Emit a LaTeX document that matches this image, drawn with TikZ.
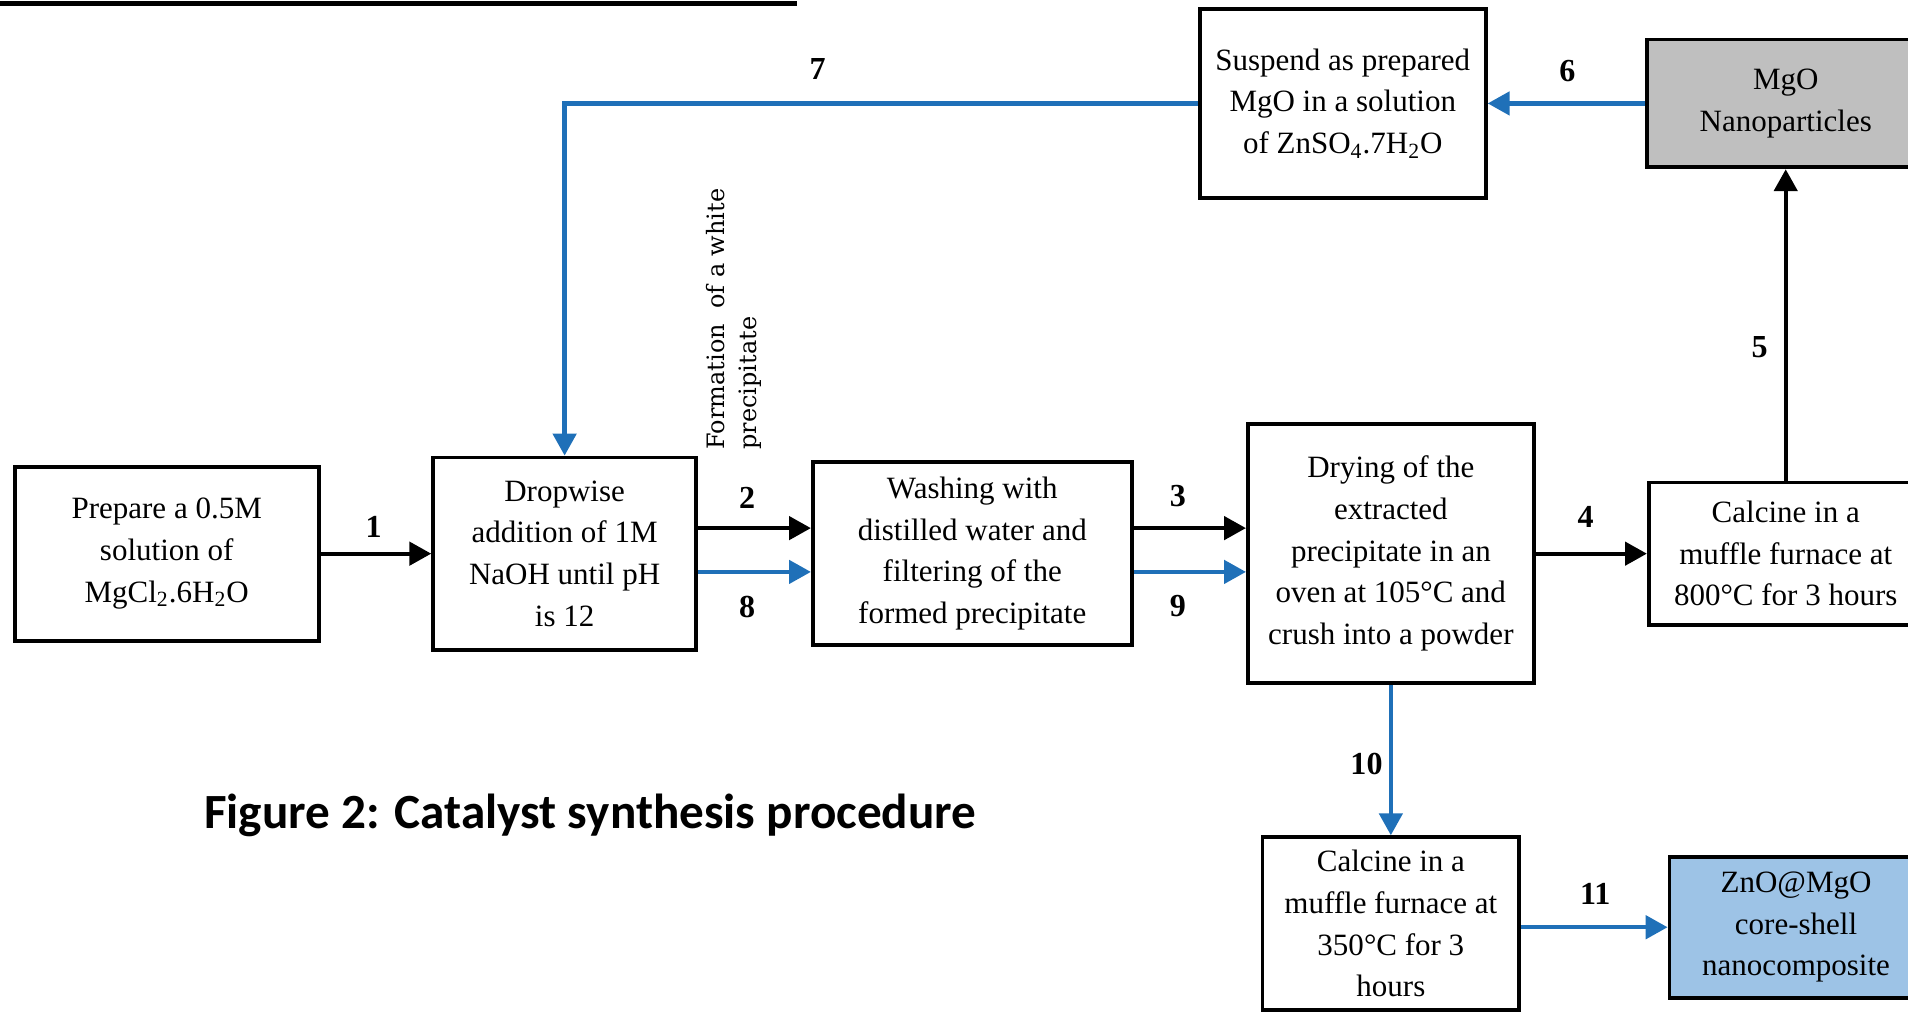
\documentclass[tikz,border=0pt]{standalone}
\usepackage{fontspec}
\setmainfont{Liberation Serif}
\newfontfamily\capfont{Carlito}
\newfontfamily\sidefont{DejaVu Serif}
\usetikzlibrary{arrows.meta}
\definecolor{arrowblue}{RGB}{31,112,184}
\definecolor{mgogray}{RGB}{191,191,191}
\definecolor{znoblue}{RGB}{157,195,230}
\begin{document}
\begin{tikzpicture}[style=thick]
	\newcommand{\boxfont}{\fontsize{14.5}{19.5}\selectfont}
	\tikzstyle{proc}=[draw,line width=1.8pt,align=center,inner sep=2pt,font=\boxfont]
	\tikzstyle{num}=[font=\fontsize{15}{17}\selectfont\bfseries]
	\tikzstyle{blk}=[line width=2pt,-{Triangle[length=0.36cm,width=0.38cm]}]
	\tikzstyle{blu}=[blk,draw=arrowblue]
	\useasboundingbox (0,0) rectangle (31.36,16.70);
	\clip (0,0) rectangle (31.36,16.70);
	\draw[line width=2.3pt] (0,16.64) -- (13.1,16.64);
	% process boxes
	\node[proc,minimum width=5.0cm,minimum height=2.86cm] (prep) at (2.74,7.6) {Prepare a 0.5M\\solution of\\MgCl\textsubscript{2}.6H\textsubscript{2}O};
	\node[proc,minimum width=4.32cm,minimum height=3.16cm] (drop) at (9.28,7.6) {Dropwise\\addition of 1M\\NaOH until pH\\is 12};
	\node[proc,minimum width=5.24cm,minimum height=3.0cm] (wash) at (15.98,7.6) {Washing with\\distilled water and\\filtering of the\\formed precipitate};
	\node[proc,minimum width=4.7cm,minimum height=4.26cm] (dry) at (22.86,7.6) {Drying of the\\extracted\\precipitate in an\\oven at 105°C and\\crush into a powder};
	\node[proc,minimum width=4.5cm,minimum height=2.34cm] (calc8) at (29.35,7.6) {Calcine in a\\muffle furnace at\\800°C for 3 hours};
	\node[proc,fill=mgogray,minimum width=4.56cm,minimum height=2.1cm] (mgo) at (29.35,15.0) {MgO\\Nanoparticles};
	\node[proc,minimum width=4.7cm,minimum height=3.1cm] (susp) at (22.07,15.0) {Suspend as prepared\\MgO in a solution\\of ZnSO\textsubscript{4}.7H\textsubscript{2}O};
	\node[proc,minimum width=4.22cm,minimum height=2.84cm] (calc3) at (22.86,1.52) {Calcine in a\\muffle furnace at\\350°C for 3\\hours};
	\node[proc,fill=znoblue,minimum width=4.16cm,minimum height=2.32cm] (zno) at (29.52,1.46) {ZnO@MgO\\core-shell\\nanocomposite};
	\node[rotate=90,align=left,anchor=north west,inner sep=0,font=\sidefont\fontsize{11.2}{14.7}\selectfont] (form) at (11.6,9.3) {Formation\ \ of a white\\precipitate};
	\node[font=\capfont\bfseries\fontsize{23}{27}\selectfont] (cap) at (9.7,3.3) {Figure 2: Catalyst synthesis procedure};
	% step numbers
	\node[num] (n1) at (6.14,8.04) {1};
	\node[num] (n2) at (12.28,8.52) {2};
	\node[num] (n3) at (19.36,8.54) {3};
	\node[num] (n4) at (26.06,8.2) {4};
	\node[num] (n5) at (28.92,11.0) {5};
	\node[num] (n6) at (25.76,15.54) {6};
	\node[num] (n7) at (13.44,15.56) {7};
	\node[num] (n8) at (12.28,6.72) {8};
	\node[num] (n9) at (19.36,6.74) {9};
	\node[num] (n10) at (22.46,4.14) {10};
	\node[num] (n11) at (26.22,2.0) {11};
	% arrows
	\draw[blk] (prep) -- (drop);
	\draw[blk] ([yshift=0.42cm]drop.east) -- ([yshift=0.42cm]wash.west);
	\draw[blu] ([yshift=-0.3cm]drop.east) -- ([yshift=-0.3cm]wash.west);
	\draw[blk] ([yshift=0.42cm]wash.east) -- ([yshift=0.42cm]dry.west);
	\draw[blu] ([yshift=-0.3cm]wash.east) -- ([yshift=-0.3cm]dry.west);
	\draw[blk] (dry) -- (calc8);
	\draw[blk] (calc8) -- (mgo);
	\draw[blu] (mgo) -- (susp);
	\draw[blu] (susp.west) -| (drop.north);
	\draw[blu] (dry) -- (calc3);
	\draw[blu] (zno.west -| calc3.east) -- (zno.west);
\end{tikzpicture}
\end{document}
